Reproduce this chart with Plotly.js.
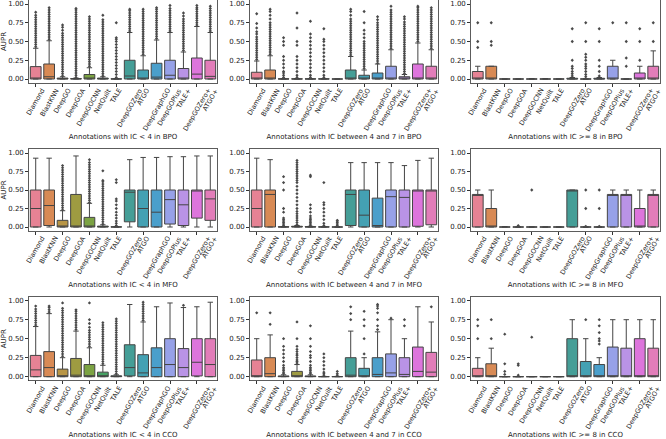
<!DOCTYPE html>
<html><head><meta charset="utf-8">
<script src="https://cdn.plot.ly/plotly-3.0.1.min.js"></script>
<style>html,body{margin:0;padding:0;background:#fff}#chart{width:666px;height:439px}</style>
</head><body><div id="chart"></div>
<script>
const categories = ["Diamond","BlastKNN","DeepGO","DeepGOA","DeepGOCNN","NetQuilt","TALE","DeepGOZero","ATGO","DeepGraphGO","DeepGOPlus","TALE+","DeepGOZero+","ATGO+"];
const colors = ["#e68294","#d88a55","#b89544","#9e9b41","#7ca343","#46a264","#44a083","#459e97","#44a1b3","#4a9fcb","#97a1e8","#b993e6","#dd75dc","#e27db9"];
const panelTitles = [
 "Annotations with IC < 4 in BPO","Annotations with IC between 4 and 7 in BPO","Annotations with IC >= 8 in BPO",
 "Annotations with IC < 4 in MFO","Annotations with IC between 4 and 7 in MFO","Annotations with IC >= 8 in MFO",
 "Annotations with IC < 4 in CCO","Annotations with IC between 4 and 7 in CCO","Annotations with IC >= 8 in CCO"];
const yTickVals = [0,0.25,0.5,0.75,1.0];

// ---- BPO, IC < 4
const bpoLow_q1  = [0,0,0,0,0,0,0,0,0,0,0,0,0,0];
const bpoLow_med = [0.01,0.03,0.003,0.002,0.01,0.003,0,0.04,0.01,0.025,0.05,0.0,0.065,0.035];
const bpoLow_q3  = [0.165,0.2,0.012,0.005,0.06,0.012,0.002,0.25,0.12,0.21,0.25,0.14,0.28,0.25];
const bpoLow_lo  = [0,0,0,0,0,0,0,0,0,0,0,0,0,0];
const bpoLow_hi  = [0.41,0.51,0.03,0.012,0.15,0.03,0.005,0.62,0.31,0.52,0.62,0.36,0.7,0.62];
const bpoLow_out = [
 [0.43,0.46,0.49,0.52,0.55,0.58,0.61,0.64,0.67,0.70,0.73,0.76,0.79,0.82,0.85,0.89],
 [0.53,0.56,0.59,0.62,0.65,0.68,0.71,0.74,0.77,0.80,0.83,0.86,0.89,0.92,0.95],
 [0.04,0.07,0.10,0.13,0.16,0.19,0.22,0.25,0.28,0.31,0.34,0.37,0.40,0.43,0.46,0.49,0.52,0.55,0.58,0.61,0.65,0.69,0.72],
 [0.02,0.05,0.08,0.11,0.14,0.17,0.20,0.23,0.26,0.29,0.32,0.35,0.38,0.41,0.44,0.47,0.50,0.53,0.56,0.59,0.62,0.65,0.68,0.71,0.74,0.77,0.80,0.83,0.86,0.89,0.92,0.94],
 [0.17,0.20,0.23,0.26,0.29,0.32,0.35,0.38,0.41,0.44,0.47,0.50,0.53,0.56,0.59,0.62,0.65,0.68,0.71,0.74,0.77,0.80,0.83],
 [0.04,0.07,0.10,0.13,0.16,0.19,0.22,0.25,0.28,0.31,0.34,0.37,0.40,0.43,0.46,0.49,0.52,0.55,0.58,0.61,0.64,0.67,0.70,0.73,0.76,0.79,0.85],
 [0.02,0.06,0.10,0.14,0.18,0.22,0.26,0.30,0.34,0.38,0.42,0.46,0.50,0.53,0.55,0.75],
 [0.64,0.67,0.70,0.73,0.76,0.79,0.82,0.85,0.88,0.91,0.93],
 [0.33,0.36,0.39,0.42,0.45,0.48,0.51,0.54,0.57,0.60,0.63,0.66,0.69,0.72,0.75,0.78,0.81,0.84,0.87,0.90,0.93],
 [0.54,0.57,0.60,0.63,0.66,0.69,0.72,0.75,0.78,0.81,0.84,0.87,0.90,0.93,0.95],
 [0.64,0.67,0.70,0.73,0.76,0.79,0.82,0.85,0.88,0.91,0.94,0.98],
 [0.38,0.41,0.44,0.47,0.50,0.53,0.56,0.59,0.62,0.65,0.68,0.71,0.74,0.77,0.80,0.84,0.88],
 [0.72,0.75,0.78,0.81,0.84,0.87,0.90,0.93,0.95,0.98],
 [0.64,0.67,0.70,0.73,0.76,0.79,0.82,0.85,0.88,0.91,0.94,0.97]];

// ---- BPO, IC 4-7
const bpoMid_q1  = [0,0,0,0,0,0,0,0,0,0,0,0,0,0];
const bpoMid_med = [0,0,0,0,0,0,0,0,0.01,0,0,0.005,0,0];
const bpoMid_q3  = [0.09,0.12,0.002,0.002,0.002,0.002,0,0.12,0.05,0.08,0.17,0.03,0.2,0.17];
const bpoMid_lo  = [0,0,0,0,0,0,0,0,0,0,0,0,0,0];
const bpoMid_hi  = [0.24,0.31,0.005,0.005,0.005,0.005,0,0.3,0.12,0.2,0.39,0.06,0.48,0.39];
const bpoMid_out = [
 [0.26,0.29,0.32,0.35,0.38,0.41,0.44,0.47,0.50,0.53,0.56,0.60,0.63,0.68,0.74,0.87],
 [0.33,0.36,0.39,0.42,0.45,0.48,0.51,0.54,0.57,0.60,0.63,0.66,0.69,0.72,0.75,0.80,0.85,0.90,0.93],
 [0.02,0.05,0.08,0.10,0.15,0.20,0.25,0.30,0.45,0.50,0.55],
 [0.02,0.05,0.10,0.15,0.20,0.25,0.30,0.45,0.50,0.68,0.88],
 [0.02,0.05,0.10,0.15,0.20,0.25,0.30,0.35,0.40,0.45,0.50,0.55,0.60,0.77],
 [0.02,0.05,0.10,0.15,0.20,0.25,0.30,0.35,0.40,0.45,0.50,0.53,0.67],
 [],
 [0.32,0.35,0.38,0.41,0.44,0.47,0.50,0.53,0.56,0.59,0.62,0.65,0.68,0.71,0.74,0.77,0.80,0.85,0.90,0.93],
 [0.14,0.17,0.20,0.23,0.26,0.29,0.32,0.35,0.38,0.41,0.44,0.47,0.50,0.55,0.60,0.65,0.75,0.90],
 [0.21,0.24,0.27,0.30,0.33,0.36,0.39,0.42,0.45,0.48,0.51,0.54,0.57,0.60,0.63,0.66,0.69,0.72,0.75,0.79,0.83],
 [0.41,0.44,0.47,0.50,0.53,0.56,0.59,0.62,0.65,0.68,0.71,0.74,0.77,0.80,0.83,0.86,0.89,0.92,0.97],
 [0.07,0.10,0.13,0.16,0.19,0.22,0.25,0.28,0.31,0.34,0.37,0.40,0.43,0.46,0.49,0.52,0.55,0.58,0.61,0.64,0.67,0.70,0.73,0.76,0.80,0.83],
 [0.50,0.53,0.56,0.59,0.62,0.65,0.68,0.71,0.74,0.77,0.80,0.83,0.86,0.89,0.92,0.95,0.97],
 [0.41,0.44,0.47,0.50,0.53,0.56,0.59,0.62,0.65,0.68,0.71,0.74,0.77,0.80,0.83,0.86,0.89,0.92,0.95]];

// ---- BPO, IC >= 8
const bpoHigh_q1  = [0,0,0,0,0,0,0,0,0,0,0,0,0,0];
const bpoHigh_med = [0,0,0,0,0,0,0,0,0,0,0,0,0,0];
const bpoHigh_q3  = [0.1,0.17,0,0,0,0,0,0.01,0,0.01,0.17,0,0.08,0.17];
const bpoHigh_lo  = [0,0,0,0,0,0,0,0,0,0,0,0,0,0];
const bpoHigh_hi  = [0.17,0.17,0,0,0.005,0.005,0,0.02,0,0.02,0.25,0,0.17,0.375];
const bpoHigh_out = [
 [0.42,0.5,0.75],[0.45,0.5,0.75],[],[],[],[],[],
 [0.04,0.07,0.1,0.14,0.17,0.25,0.5,0.67],
 [0.03,0.06,0.1,0.14,0.17,0.2,0.25,0.29,0.33,0.5,0.75],
 [0.04,0.1,0.17,0.25,0.5,0.67],
 [0.75],[0.17,0.28,0.5,0.75],[0.25,0.5,0.67],[0.5,0.75]];

// ---- MFO, IC < 4
const mfoLow_q1  = [0,0.02,0,0,0,0,0,0.07,0,0,0.04,0.02,0.12,0.09];
const mfoLow_med = [0.25,0.29,0,0.01,0,0.003,0,0.47,0.25,0.2,0.37,0.3,0.5,0.38];
const mfoLow_q3  = [0.5,0.5,0.09,0.44,0.13,0.012,0.002,0.5,0.5,0.5,0.5,0.5,0.5,0.5];
const mfoLow_lo  = [0,0,0,0,0,0,0,0,0,0,0,0,0,0];
const mfoLow_hi  = [0.93,0.93,0.22,0.96,0.32,0.03,0.005,0.91,0.94,0.94,0.95,0.95,0.96,0.96];
const mfoLow_out = [
 [],[],
 [0.23,0.26,0.29,0.32,0.35,0.38,0.41,0.44,0.47,0.50,0.53,0.56,0.59,0.62,0.65,0.68,0.71,0.74,0.77,0.80,0.83],
 [],
 [0.33,0.36,0.39,0.42,0.45,0.48,0.51,0.54,0.57,0.60,0.63,0.66,0.69,0.72,0.75,0.78,0.81,0.84,0.87,0.91],
 [0.04,0.07,0.10,0.13,0.16,0.19,0.22,0.25,0.28,0.31,0.34,0.37,0.40,0.43,0.46,0.49,0.52,0.55,0.58,0.61,0.63,0.76],
 [0.02,0.05,0.08,0.12,0.16,0.2,0.25,0.3,0.35,0.38,0.6,0.64],
 [],[],[],[],[],[],[]];

// ---- MFO, IC 4-7
const mfoMid_q1  = [0,0,0,0,0,0,0,0.02,0,0,0,0,0.01,0.03];
const mfoMid_med = [0.25,0.44,0,0.003,0,0,0,0.44,0.16,0.02,0.41,0.4,0.5,0.5];
const mfoMid_q3  = [0.5,0.5,0.003,0.01,0.005,0.002,0,0.5,0.5,0.39,0.5,0.5,0.5,0.5];
const mfoMid_lo  = [0,0,0,0,0,0,0,0,0,0,0,0,0,0];
const mfoMid_hi  = [0.93,0.91,0.006,0.02,0.01,0.004,0,0.87,0.87,0.87,0.87,0.83,0.9,0.93];
const mfoMid_out = [
 [],[],
 [0.02,0.04,0.06,0.08,0.1,0.12,0.2,0.25,0.5,0.6,0.68],
 [0.03,0.06,0.09,0.12,0.15,0.18,0.21,0.25,0.3,0.35,0.4,0.45,0.5,0.55,0.6,0.63,0.66,0.69,0.72,0.75,0.78,0.81,0.84,0.87,0.9],
 [0.02,0.04,0.06,0.08,0.1,0.12,0.15,0.2,0.25,0.3,0.68,0.7],
 [0.02,0.05,0.1,0.15,0.2,0.25,0.3,0.33,0.6],
 [0.02,0.04,0.06,0.08,0.09],
 [],[],[],[],[],[],[]];

// ---- MFO, IC >= 8
const mfoHigh_q1  = [0,0,0,0,0,0,0,0,0,0,0,0,0,0];
const mfoHigh_med = [0.44,0,0,0,0,0,0,0.5,0,0,0.44,0.44,0,0.44];
const mfoHigh_q3  = [0.44,0.25,0,0,0,0,0,0.5,0,0,0.44,0.44,0.25,0.44];
const mfoHigh_lo  = [0,0,0,0,0,0,0,0,0,0,0,0,0,0];
const mfoHigh_hi  = [0.5,0.5,0.005,0,0,0,0,0.5,0,0,0.5,0.5,0.5,0.5];
const mfoHigh_out = [[],[],[],[0.02],[0.5],[],[],[],[0.01,0.25,0.5],[0.01,0.25,0.5],[],[],[],[]];

// ---- CCO, IC < 4
const ccoLow_q1  = [0,0,0,0,0,0,0,0.01,0,0,0,0,0.01,0];
const ccoLow_med = [0.09,0.12,0.01,0.02,0,0.01,0.003,0.12,0.05,0.12,0.16,0.12,0.19,0.16];
const ccoLow_q3  = [0.28,0.33,0.1,0.24,0.16,0.06,0.012,0.42,0.29,0.38,0.5,0.37,0.5,0.5];
const ccoLow_lo  = [0,0,0,0,0,0,0,0,0,0,0,0,0,0];
const ccoLow_hi  = [0.66,0.83,0.25,0.6,0.38,0.15,0.025,0.95,0.72,0.92,0.97,0.91,0.92,0.98];
const ccoLow_out = [
 [0.68,0.71,0.74,0.77,0.80,0.83,0.86,0.89,0.93],
 [0.85,0.88,0.91,0.93],
 [0.27,0.30,0.33,0.36,0.39,0.42,0.45,0.48,0.51,0.54,0.57,0.60,0.63,0.66,0.69,0.72,0.75,0.78,0.81,0.84,0.87,0.90,0.97],
 [0.62,0.65,0.68,0.71,0.74,0.77,0.80,0.83,0.86,0.88],
 [0.40,0.43,0.46,0.49,0.52,0.55,0.58,0.61,0.65,0.70,0.75,0.97],
 [0.17,0.20,0.23,0.26,0.29,0.32,0.35,0.38,0.41,0.44,0.47,0.50,0.53,0.56,0.59,0.62,0.65,0.68,0.71],
 [0.04,0.07,0.10,0.13,0.16,0.19,0.22,0.25,0.28,0.31,0.34,0.37,0.40,0.43,0.46,0.49,0.52,0.55,0.58,0.61,0.64,0.67,0.70,0.73,0.76],
 [],
 [0.74,0.77,0.80,0.83,0.86,0.89,0.92,0.95,0.98],
 [],[],[0.94],[],[]];

// ---- CCO, IC 4-7
const ccoMid_q1  = [0,0,0,0,0,0,0,0,0,0,0,0,0,0];
const ccoMid_med = [0.01,0.04,0.003,0.01,0.003,0,0,0.02,0,0.03,0.05,0.03,0.07,0.06];
const ccoMid_q3  = [0.22,0.25,0.01,0.07,0.01,0.002,0.002,0.25,0.11,0.25,0.3,0.25,0.39,0.32];
const ccoMid_lo  = [0,0,0,0,0,0,0,0,0,0,0,0,0,0];
const ccoMid_hi  = [0.5,0.55,0.025,0.16,0.025,0.004,0.004,0.6,0.25,0.59,0.75,0.5,0.92,0.72];
const ccoMid_out = [
 [0.84],[0.69,0.84],
 [0.04,0.06,0.08,0.1,0.12,0.15,0.2,0.25,0.3,0.35,0.4,0.5],
 [0.18,0.2,0.22,0.25,0.28,0.3,0.33,0.36,0.4,0.5,0.72],
 [0.04,0.06,0.08,0.1,0.12,0.15,0.2,0.25,0.28,0.33,0.4,0.5,0.67],
 [0.02,0.04,0.06,0.1,0.15,0.2,0.25,0.3],
 [0.02,0.04,0.07],
 [0.75,0.83,0.92],
 [0.3,0.5,0.67,0.75,0.86],
 [0.62,0.67,0.75,0.84,0.9,0.93,0.95],
 [0.77],[0.67,0.75],[],[0.92]];

// ---- CCO, IC >= 8
const ccoHigh_q1  = [0,0,0,0,0,0,0,0,0,0,0,0,0,0];
const ccoHigh_med = [0,0,0,0,0,0,0,0,0,0,0,0,0,0];
const ccoHigh_q3  = [0.11,0.17,0,0,0,0,0,0.5,0.2,0.16,0.39,0.375,0.5,0.375];
const ccoHigh_lo  = [0,0,0,0,0,0,0,0,0,0,0,0,0,0];
const ccoHigh_hi  = [0.25,0.375,0,0,0,0,0,0.75,0.5,0.25,0.75,0.75,0.75,0.75];
const ccoHigh_out = [
 [0.5,0.67,0.75],[0.5,0.75],[0.03,0.07,0.17,0.56],[0.02,0.15,0.17],[0.52],[],[],
 [],[0.75],[0.43,0.47,0.5,0.58,0.67,0.75],[],[],[],[]];

const panels = [
 [bpoLow_q1,bpoLow_med,bpoLow_q3,bpoLow_lo,bpoLow_hi,bpoLow_out],
 [bpoMid_q1,bpoMid_med,bpoMid_q3,bpoMid_lo,bpoMid_hi,bpoMid_out],
 [bpoHigh_q1,bpoHigh_med,bpoHigh_q3,bpoHigh_lo,bpoHigh_hi,bpoHigh_out],
 [mfoLow_q1,mfoLow_med,mfoLow_q3,mfoLow_lo,mfoLow_hi,mfoLow_out],
 [mfoMid_q1,mfoMid_med,mfoMid_q3,mfoMid_lo,mfoMid_hi,mfoMid_out],
 [mfoHigh_q1,mfoHigh_med,mfoHigh_q3,mfoHigh_lo,mfoHigh_hi,mfoHigh_out],
 [ccoLow_q1,ccoLow_med,ccoLow_q3,ccoLow_lo,ccoLow_hi,ccoLow_out],
 [ccoMid_q1,ccoMid_med,ccoMid_q3,ccoMid_lo,ccoMid_hi,ccoMid_out],
 [ccoHigh_q1,ccoHigh_med,ccoHigh_q3,ccoHigh_lo,ccoHigh_hi,ccoHigh_out]];

// layout geometry (px)
const W = 666, H = 439;
const colPx = [[29,217],[250,438],[471,660]];
const rowPx = [[0.25,82.75],[149.3,230.7],[296.9,380.5]];
const FONT = "DejaVu Sans, sans-serif";
const LINE = "#444444";

const traces = [];
const layout = {
  width: W, height: H, margin:{l:0,r:0,t:0,b:0},
  paper_bgcolor:"#ffffff", plot_bgcolor:"#ffffff",
  showlegend:false, boxmode:"overlay",
  font:{family:FONT, size:7, color:"#222"},
  annotations: []
};

panels.forEach((pd, p) => {
  const n = p === 0 ? "" : String(p+1);
  const row = Math.floor(p/3), col = p % 3;
  const [q1, med, q3, lo, hi, out] = pd;
  categories.forEach((c, i) => {
    traces.push({
      type:"box", xaxis:"x"+n, yaxis:"y"+n,
      x:[c], q1:[q1[i]], median:[med[i]], q3:[q3[i]],
      lowerfence:[lo[i]], upperfence:[hi[i]],
      width:0.8, whiskerwidth:0.5, boxpoints:false,
      fillcolor:colors[i], line:{color:LINE, width:1},
      hoverinfo:"skip"
    });
  });
  const ox = [], oy = [];
  out.forEach((arr, i) => arr.forEach(v => { ox.push(categories[i]); oy.push(v); }));
  traces.push({
    type:"scatter", mode:"markers", xaxis:"x"+n, yaxis:"y"+n,
    x:ox, y:oy, marker:{symbol:"diamond", size:2.5, color:"#4a4a4a", line:{width:0}}, hoverinfo:"skip"
  });
  layout["xaxis"+n] = {
    domain:[colPx[col][0]/W, colPx[col][1]/W], anchor:"y"+n,
    type:"category", categoryorder:"array", categoryarray:categories,
    range:[-0.5, 13.5], showticklabels:false, ticks:"outside", ticklen:3, tickcolor:"#333",
    showline:true, mirror:true, linecolor:"#333", linewidth:0.8, showgrid:false, zeroline:false,
    title:{text:panelTitles[p], font:{size:7, family:FONT, color:"#222"}, standoff:48},
    automargin:false
  };
  layout["yaxis"+n] = {
    domain:[1-rowPx[row][1]/H, 1-rowPx[row][0]/H], anchor:"x"+n,
    range:[-0.05, 1.05], tickvals:yTickVals, tickformat:".2f",
    ticks:"outside", ticklen:3, tickcolor:"#333", tickfont:{size:7},
    showline:true, mirror:true, linecolor:"#333", linewidth:0.8, showgrid:false, zeroline:false,
    title: col === 0 ? {text:"AUPR", font:{size:7, family:FONT, color:"#222"}, standoff:3} : {text:""},
    automargin:false
  };
  categories.forEach(c => {
    layout.annotations.push({
      xref:"x"+n, yref:"y"+n+" domain", x:c, y:0, yshift:-3,
      text:c, textangle:-60, xanchor:"center", yanchor:"top", showarrow:false,
      borderpad:0, font:{size:6.6, family:FONT, color:"#222"}
    });
  });
});

Plotly.newPlot("chart", traces, layout, {staticPlot:true});
</script>
</body></html>
